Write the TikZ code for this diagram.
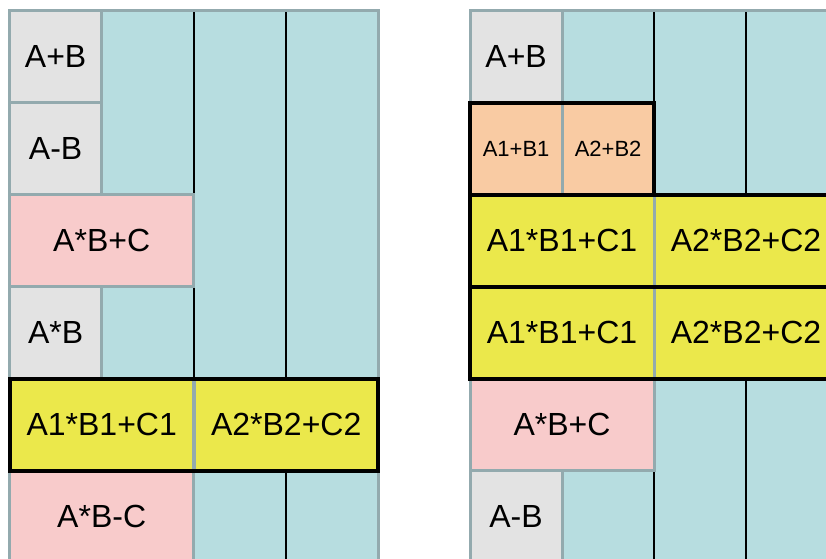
\documentclass[tikz,border=0pt]{standalone}
\usepackage{fontspec}
\setmainfont{Liberation Sans}
\definecolor{cgray}{HTML}{E3E3E3}
\definecolor{ccyan}{HTML}{B7DDE0}
\definecolor{cpink}{HTML}{F8CBCB}
\definecolor{cyel}{HTML}{EBE84B}
\definecolor{corange}{HTML}{F9CBA3}
\definecolor{cborder}{HTML}{93AAAE}
\tikzset{
  panel/.style={fill=ccyan, draw=none, anchor=north west, inner sep=0pt, outer sep=0pt,
    minimum height=552pt},
  panelborder/.style={draw=cborder, line width=3pt},
  colline/.style={draw=black, line width=2pt},
  cell/.style={draw=cborder, line width=3pt, anchor=north west, inner sep=0pt, outer sep=0pt,
    minimum height=92pt, font=\fontsize{32}{32}\selectfont},
  one/.style={minimum width=92.2pt},
  two/.style={minimum width=184.4pt},
  graycell/.style={cell, one, fill=cgray},
  pinkcell/.style={cell, two, fill=cpink},
  yelcell/.style={cell, two, fill=cyel},
  orcell/.style={cell, one, fill=corange, font=\fontsize{22}{22}\selectfont},
  group/.style={draw=black, line width=4pt}
}
\begin{document}
\begin{tikzpicture}[x=1pt,y=-1pt]
\useasboundingbox (0,0) rectangle (826,558);
\clip (0,0) rectangle (826,558);
% ---------- left panel ----------
\node[panel, minimum width=369pt] (Lp) at (9.5,10.5) {};
\coordinate (L1t) at (194,10.5);   \coordinate (L1b) at (194,562.5);
\coordinate (L2t) at (286.25,10.5); \coordinate (L2b) at (286.25,562.5);
\draw[colline] (L1t) -- (L1b);
\draw[colline] (L2t) -- (L2b);
\node[graycell] (l1) at (9.5,10.5) {A+B};
\node[graycell] (l2) at (9.5,102.5) {A-B};
\node[pinkcell] (l3) at (9.5,194.5) {A*B+C};
\node[graycell] (l4) at (9.5,286.5) {A*B};
\node[yelcell] (l5a) at (9.5,378.5) {A1*B1+C1};
\node[yelcell] (l5b) at (194,378.5) {A2*B2+C2};
\node[pinkcell] (l6) at (9.5,470.5) {A*B-C};
\draw[panelborder] (Lp.north west) rectangle (Lp.south east);
\draw[group] (l5a.north west) rectangle (l5b.south east);
% ---------- right panel ----------
\node[panel, minimum width=368pt] (Rp) at (470,10.5) {};
\coordinate (R1t) at (654,10.5); \coordinate (R1b) at (654,562.5);
\coordinate (R2t) at (746,10.5); \coordinate (R2b) at (746,562.5);
\draw[colline] (R1t) -- (R1b);
\draw[colline] (R2t) -- (R2b);
\node[graycell] (r1) at (470,10.5) {A+B};
\node[orcell] (r2a) at (470,102.5) {A1+B1};
\node[orcell] (r2b) at (562,102.5) {A2+B2};
\node[yelcell, minimum width=184pt] (r3a) at (470,194.5) {A1*B1+C1};
\node[yelcell, minimum width=184pt] (r3b) at (654,194.5) {A2*B2+C2};
\node[yelcell, minimum width=184pt] (r4a) at (470,286.5) {A1*B1+C1};
\node[yelcell, minimum width=184pt] (r4b) at (654,286.5) {A2*B2+C2};
\node[pinkcell, minimum width=184pt] (r5) at (470,378.5) {A*B+C};
\node[graycell, minimum width=92pt] (r6) at (470,470.5) {A-B};
\draw[panelborder] (Rp.north west) rectangle (Rp.south east);
\draw[group] (r2a.north west) rectangle (r2b.south east);
\draw[group] (r3a.north west) rectangle (r3b.south east);
\draw[group] (r4a.north west) rectangle (r4b.south east);
\end{tikzpicture}
\end{document}
